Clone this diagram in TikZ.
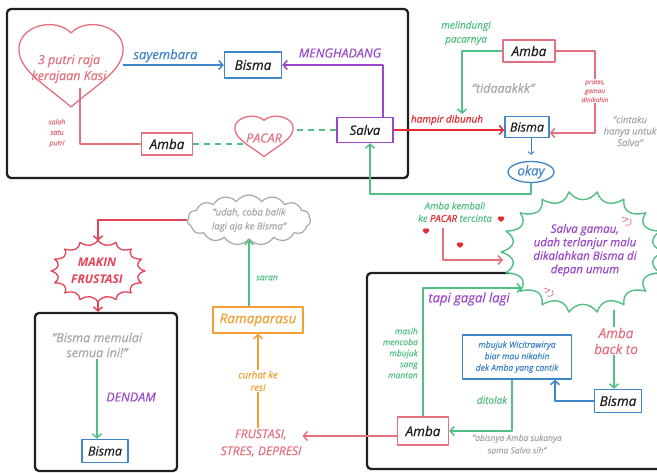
\documentclass[tikz,border=0pt]{standalone}
\usepackage{fontspec}
\setmainfont{Open Sans}[ItalicFeatures={FakeBold=0.4}]
\usetikzlibrary{arrows.meta,shapes.geometric,shapes.symbols,calc}
\definecolor{cpink}{HTML}{E5707E}
\definecolor{cred}{HTML}{E52A30}
\definecolor{cred2}{HTML}{E34455}
\definecolor{cblue}{HTML}{3F85C8}
\definecolor{cpurple}{HTML}{9A48C8}
\definecolor{cgreen}{HTML}{52C084}
\definecolor{cgray}{HTML}{A8A8A8}
\definecolor{corange}{HTML}{F2A034}
\definecolor{ctext}{HTML}{1E1E1E}
\definecolor{cblack}{HTML}{202020}
\newcommand\fsz[2]{\fontsize{#1}{#2}\selectfont\itshape}
\tikzset{heart/.pic={\path[pic actions] (0,42) .. controls (-25,20) and (-54,5) .. (-52,-18) .. controls (-50,-40) and (-15,-48) .. (0,-32) .. controls (15,-48) and (50,-40) .. (52,-18) .. controls (54,5) and (25,20) .. (0,42) -- cycle;}}
\begin{document}
\begin{tikzpicture}[x=1pt,y=-1pt,line join=round,
  tip/.style={-{Straight Barb[length=4pt,width=9pt]}},
  bx/.style={draw,line width=1.4pt,inner sep=0pt,text=ctext,font=\fsz{13.5}{15}},
  ln/.style={line width=1.5pt},
  lb/.style={inner sep=1pt,align=center},
  blk/.style={draw=cblack,line width=2.3pt,rounded corners=4pt}]
\useasboundingbox (0,0) rectangle (657,473);
\fill[white] (0,0) rectangle (657,473);

% ---------- top-left box ----------
\draw[blk] (7,9) rectangle (408,178);
\node[bx,draw=cblue,minimum width=57,minimum height=26] (bisma1) at (253,65) {Bisma};
\node[bx,draw=cpurple,minimum width=56,minimum height=25,font=\fsz{13}{15}] (salva) at (365,130) {Salva};
\node[bx,draw=cpink,minimum width=51,minimum height=22] (amba1) at (167,144) {Amba};
\node[inner sep=0,minimum width=104,minimum height=86] (h1) at (71,65) {};
\pic[draw=cpink,line width=1.3pt] at (h1) {heart};
\node[lb,text=cpink,font=\fsz{12.5}{16}] (h1t) at (69,69) {3 putri raja\\kerajaan Kasi};
\draw[ln,tip,cblue] (h1.east |- bisma1.west) -- (bisma1.west)
  node[pos=0.42,above=1pt,lb,text=cblue,font=\fsz{13}{15}] {sayembara};
\draw[ln,tip,cpurple] ([xshift=18pt]salva.north) |- (bisma1.east);
\node[lb,text=cpurple,font=\fsz{12.5}{15}] at (340,53) {MENGHADANG};
\draw[ln,cpink] ([shift={(9,23)}]h1.center) |- (amba1.west);
\node[lb,text=cpink,font=\fsz{7}{10.5}] at (57,133) {salah\\satu\\putri};
\node[inner sep=0,minimum width=58,minimum height=42] (pacar) at (264,136) {};
\draw[ln,cgreen,dash pattern=on 6pt off 5pt] (amba1.east) -- (amba1.east -| pacar.center);
\draw[ln,cgreen,dash pattern=on 6pt off 5pt] (pacar.center |- salva.west) -- (salva.west);
\pic[draw=cpink,fill=white,line width=1.3pt,xscale=0.56,yscale=0.49] at (pacar) {heart};
\node[text=cpink,font=\fsz{12.5}{14}] at (264,138) {PACAR};

% ---------- top-right ----------
\node[bx,draw=cpink,minimum width=52,minimum height=22] (amba2) at (529,51) {Amba};
\node[bx,draw=cblue,minimum width=44,minimum height=21,font=\fsz{12.5}{14}] (bisma2) at (527,127) {Bisma};
\coordinate (mp) at (462,114);
\draw[ln,tip,cgreen] (amba2.west) -| (mp);
\node[lb,text=cgreen,font=\fsz{10}{14}] at (466,33) {melindungi\\pacarnya};
\node[lb,text=cgray,font=\fsz{12.5}{15}] at (503,88) {"tidaaakkk"};
\draw[ln,tip,cred] (salva.east) -- (salva.east -| bisma2.west);
\node[lb,text=cred,font=\fsz{10}{12}] at (447,120) {hampir dibunuh};
\coordinate (pc) at (595,133);
\draw[ln,tip,cpink] (amba2.east) -| (pc) -- (pc -| bisma2.east);
\node[lb,fill=white,text=cpink,font=\fsz{6.5}{9}] at (595,91) {protes,\\gamau\\dinikahin};
\node[lb,text=cgray,font=\fsz{9.5}{11.5}] at (630,131) {"cintaku\\hanya untuk\\Salva"};
\node[ellipse,draw=cblue,line width=1.3pt,minimum width=46,minimum height=21,inner sep=0,text=cblue,font=\fsz{13}{15}] (okay) at (531,172) {okay};
\draw[line width=1pt,cblue,-{Straight Barb[length=2.5pt,width=6pt]}] (okay.north |- bisma2.south) -- ([shift={(0,-6)}]okay.north);
\draw[ln,tip,cgreen] (okay.south) |- ([shift={(5,51)}]salva.south) -- ([shift={(5,0)}]salva.south);

% ---------- middle ----------
\node[lb,text=cgreen,font=\fsz{9.5}{12.5}] (ak) at (455,212) {Amba kembali\\ke \textcolor{cred}{PACAR} tercinta};
\pic[draw=cred,fill=cred,line width=0.4pt,scale=0.06] at (501,219) {heart};
\pic[draw=cred,fill=cred,line width=0.4pt,scale=0.06] at (426,231) {heart};
\pic[draw=cred,fill=cred,line width=0.4pt,scale=0.06] at (460,245) {heart};
\coordinate (kb) at (443,228);
\coordinate (gw) at (503,260);
\draw[ln,tip,cpink] (kb) |- (gw);

% ---------- bottom-right box ----------
\draw[blk] (367,273) rectangle (690,469);
\node[inner sep=0,minimum width=164,minimum height=122] (gbx) at (583,252) {};
\begin{scope}[shift={(583,252)}]
\draw[cgreen,line width=1.4pt,fill=white] (0:82 and 61)
  \foreach \i in {1,...,18}{ .. controls ({(\i-0.75)*20}:68 and 50) and ({(\i-0.25)*20}:68 and 50) .. ({\i*20}:82 and 61)} -- cycle;
\end{scope}
\node[lb,text=cpurple,font=\fsz{11.5}{13.5}] (gb) at (585,250) {Salva gamau,\\udah terlanjur malu\\dikalahkan Bisma di\\depan umum};
\draw[cpink,line width=0.7pt] (622,217) -- (628,219) -- (623,222) (625,225) .. controls (630,227) and (633,222) .. (630,219);
\draw[cpink,line width=0.7pt] (544,288) -- (550,290) -- (545,293) (547,296) .. controls (552,298) and (555,293) .. (552,290);

\node[bx,draw=cpink,minimum width=51,minimum height=28] (amba3) at (423,431) {Amba};
\coordinate (gl) at (522,288);
\draw[ln,tip,cgreen] (amba3.north) |- (gl);
\node[lb,text=cpurple,font=\fsz{13}{15}] at (469,299) {tapi gagal lagi};
\node[lb,align=right,anchor=east,text=cgreen,font=\fsz{8.5}{11}] at (419,353) {masih\\mencoba\\mbujuk\\sang\\mantan};
\node[draw=cblue,line width=1.4pt,minimum width=109,minimum height=44,inner sep=0,align=center,text=cblue,font=\fsz{8.5}{11.5}] (mbj) at (517,357) {mbujuk Wicitrawirya\\biar mau nikahin\\dek Amba yang cantik};
\node[bx,draw=cblue,minimum width=47,minimum height=23] (bisma4) at (618,401) {Bisma};
\draw[ln,tip,cblue] (bisma4.west) -| ([shift={(38,0)}]mbj.south);
\coordinate (gs) at (614,310);
\draw[ln,tip,cgreen] (gs) -- (gs |- bisma4.north);
\node[lb,fill=white,text=cpink,font=\fsz{13.5}{16}] at (616,341) {Amba\\back to};
\draw[ln,tip,cgreen] ([shift={(-5,0)}]mbj.south) |- (amba3.east);
\node[lb,text=cgreen,font=\fsz{10}{12}] at (492,400) {ditolak};
\node[lb,text=cgray,font=\fsz{8.5}{12.5}] at (517,444) {"abisnya Amba sukanya\\sama Salva sih"};

% ---------- bottom-middle ----------
\node[lb,text=cpink,font=\fsz{12}{17}] (fr) at (261,443) {FRUSTASI,\\STRES, DEPRESI};
\draw[ln,tip,cpink] ([shift={(0,5)}]amba3.west) -- ([shift={(0,5)}]amba3.west -| fr.east);
\node[bx,draw=corange,text=corange,minimum width=90,minimum height=26] (rm) at (258,320) {Ramaparasu};
\draw[ln,tip,corange] (rm.south |- fr.north) -- (rm.south);
\node[lb,fill=white,text=corange,font=\fsz{9.5}{12.5}] at (258,381) {curhat ke\\resi};
\node[cloud,draw=cgray,line width=1.2pt,cloud puffs=15,cloud puff arc=110,cloud ignores aspect,minimum width=123,minimum height=50,inner sep=0,align=center,text=cgray,font=\fsz{9.5}{14}] (cl) at (249,220) {"udah, coba balik\\lagi aja ke Bisma"};
\draw[ln,tip,cgreen] (cl.south |- rm.north) -- (cl.south);
\node[lb,text=cgreen,font=\fsz{8.5}{10}] at (267,278) {saran};

% ---------- left ----------
\node[inner sep=0,minimum width=92,minimum height=60] (mf) at (98,271) {};
\draw[ln,tip,cred2] (cl.west) -| (mf.north);
\begin{scope}[shift={(98,271)}]
\draw[cred2,line width=1.3pt,fill=white] (0:47 and 31)
  \foreach \i in {1,...,16}{ .. controls ({(\i-0.75)*22.5}:39 and 25) and ({(\i-0.25)*22.5}:39 and 25) .. ({\i*22.5}:47 and 31)} -- cycle;
\end{scope}
\node[lb,text=cred2,font=\fsz{12}{17}\bfseries] at (97,271) {MAKIN\\FRUSTASI};
\node[blk,minimum width=142,minimum height=158,inner sep=0] (blb) at (106,392) {};
\draw[ln,tip,cred2] (mf.south) -- (mf.south |- blb.north);
\node[lb,text=cgray,font=\fsz{12.5}{15}] (q) at (97,345) {"Bisma memulai\\semua ini!"};
\node[bx,draw=cblue,minimum width=46,minimum height=23,font=\fsz{12.5}{14}] (bisma3) at (105,451) {Bisma};
\draw[ln,tip,cgreen] (q.south) -- (q.south |- bisma3.north);
\node[lb,text=cpurple,font=\fsz{12.5}{15}] at (131,397) {DENDAM};
\end{tikzpicture}
\end{document}
